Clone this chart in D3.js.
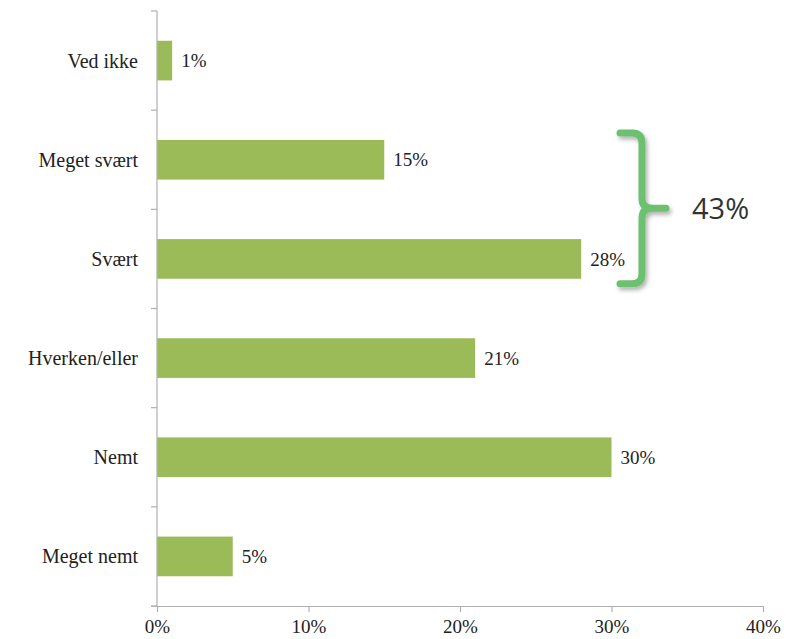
<!DOCTYPE html>
<html>
<head>
<meta charset="utf-8">
<script src="https://cdn.jsdelivr.net/npm/d3@7"></script>
<style>
  body { margin: 0; background: #fff; }
</style>
</head>
<body>
<div id="chart"></div>
<script>
const categories = ["Ved ikke", "Meget svært", "Svært", "Hverken/eller", "Nemt", "Meget nemt"];
const values = [1, 15, 28, 21, 30, 5];
const xTicks = [0, 10, 20, 30, 40];
const braceCats = ["Meget svært", "Svært"];
const braceLabel = "43%";

const width = 796, height = 639;
const margin = { top: 11, right: 33, bottom: 33, left: 157 };
const serif = "'Liberation Serif', serif";

const svg = d3.select("#chart").append("svg")
  .attr("width", width)
  .attr("height", height);

const x = d3.scaleLinear()
  .domain([0, 40])
  .range([margin.left, width - margin.right]);

const y = d3.scaleBand()
  .domain(categories)
  .range([margin.top, height - margin.bottom])
  .paddingInner(0.6)
  .paddingOuter(0.3);

// shadow for the brace
const defs = svg.append("defs");
const f = defs.append("filter").attr("id", "shadow")
  .attr("x", "-50%").attr("y", "-20%").attr("width", "200%").attr("height", "140%");
f.append("feDropShadow").attr("dx", 2).attr("dy", 3).attr("stdDeviation", 2)
  .attr("flood-color", "#000").attr("flood-opacity", 0.3);

// bars
svg.append("g")
  .selectAll("rect")
  .data(values)
  .join("rect")
  .attr("x", x(0))
  .attr("y", (d, i) => y(categories[i]))
  .attr("width", d => x(d) - x(0))
  .attr("height", y.bandwidth())
  .attr("fill", "#9bbb59");

// value labels
svg.append("g")
  .selectAll("text")
  .data(values)
  .join("text")
  .attr("x", d => x(d) + 9)
  .attr("y", (d, i) => y(categories[i]) + y.bandwidth() / 2)
  .attr("dy", "0.35em")
  .style("font-family", serif)
  .style("font-size", "19px")
  .style("fill", "#222")
  .text(d => d + "%");

// y axis: line with ticks at band boundaries
const yAxisG = svg.append("g");
const bounds = d3.range(categories.length + 1).map(i => margin.top + i * (height - margin.top - margin.bottom) / categories.length);
yAxisG.append("line")
  .attr("x1", x(0)).attr("x2", x(0))
  .attr("y1", margin.top).attr("y2", height - margin.bottom)
  .attr("stroke", "#b0b0b0").attr("stroke-width", 1.2);
yAxisG.selectAll("line.tick")
  .data(bounds)
  .join("line")
  .attr("class", "tick")
  .attr("x1", x(0) - 6).attr("x2", x(0))
  .attr("y1", d => d).attr("y2", d => d)
  .attr("stroke", "#b0b0b0").attr("stroke-width", 1.2);
yAxisG.selectAll("text")
  .data(categories)
  .join("text")
  .attr("x", x(0) - 19)
  .attr("y", d => y(d) + y.bandwidth() / 2)
  .attr("dy", "0.35em")
  .attr("text-anchor", "end")
  .style("font-family", serif)
  .style("font-size", "20px")
  .style("fill", "#222")
  .text(d => d);

// x axis
const xAxis = d3.axisBottom(x)
  .tickValues(xTicks)
  .tickFormat(d => d + "%")
  .tickSize(6)
  .tickSizeOuter(0);
const xg = svg.append("g")
  .attr("transform", `translate(0,${height - margin.bottom})`)
  .call(xAxis);
xg.select(".domain").attr("stroke", "#b0b0b0").attr("stroke-width", 1.2)
  .attr("d", `M${x(0) - 6},0.5H${x(40)}`);
xg.selectAll(".tick line").attr("stroke", "#b0b0b0").attr("stroke-width", 1.2);
xg.selectAll(".tick text")
  .style("font-family", serif)
  .style("font-size", "19px")
  .style("fill", "#222")
  .attr("dy", "0.95em");

// brace around Meget svært + Svært
const bTop = y(braceCats[0]) - 7;
const bBot = y(braceCats[1]) + y.bandwidth() + 5;
const bMid = (bTop + bBot) / 2;
const bx = 642, bl = 620, tip = 666, r = 10;
const brace = d3.path();
brace.moveTo(bl, bTop);
brace.lineTo(bx - r, bTop);
brace.quadraticCurveTo(bx, bTop, bx, bTop + r);
brace.lineTo(bx, bMid - r);
brace.quadraticCurveTo(bx, bMid, bx + r, bMid);
brace.lineTo(tip, bMid);
brace.moveTo(bx + r, bMid);
brace.quadraticCurveTo(bx, bMid, bx, bMid + r);
brace.lineTo(bx, bBot - r);
brace.quadraticCurveTo(bx, bBot, bx - r, bBot);
brace.lineTo(bl, bBot);
svg.append("path")
  .attr("d", brace.toString())
  .attr("fill", "none")
  .attr("stroke", "#6cc070")
  .attr("stroke-width", 7)
  .attr("stroke-linecap", "round")
  .attr("stroke-linejoin", "round")
  .attr("filter", "url(#shadow)");

svg.append("text")
  .attr("x", 692)
  .attr("y", bMid)
  .attr("dy", "0.36em")
  .style("font-family", "'Open Sans', sans-serif")
  .style("font-size", "29px")
  .style("fill", "#333")
  .text(braceLabel);
</script>
</body>
</html>
